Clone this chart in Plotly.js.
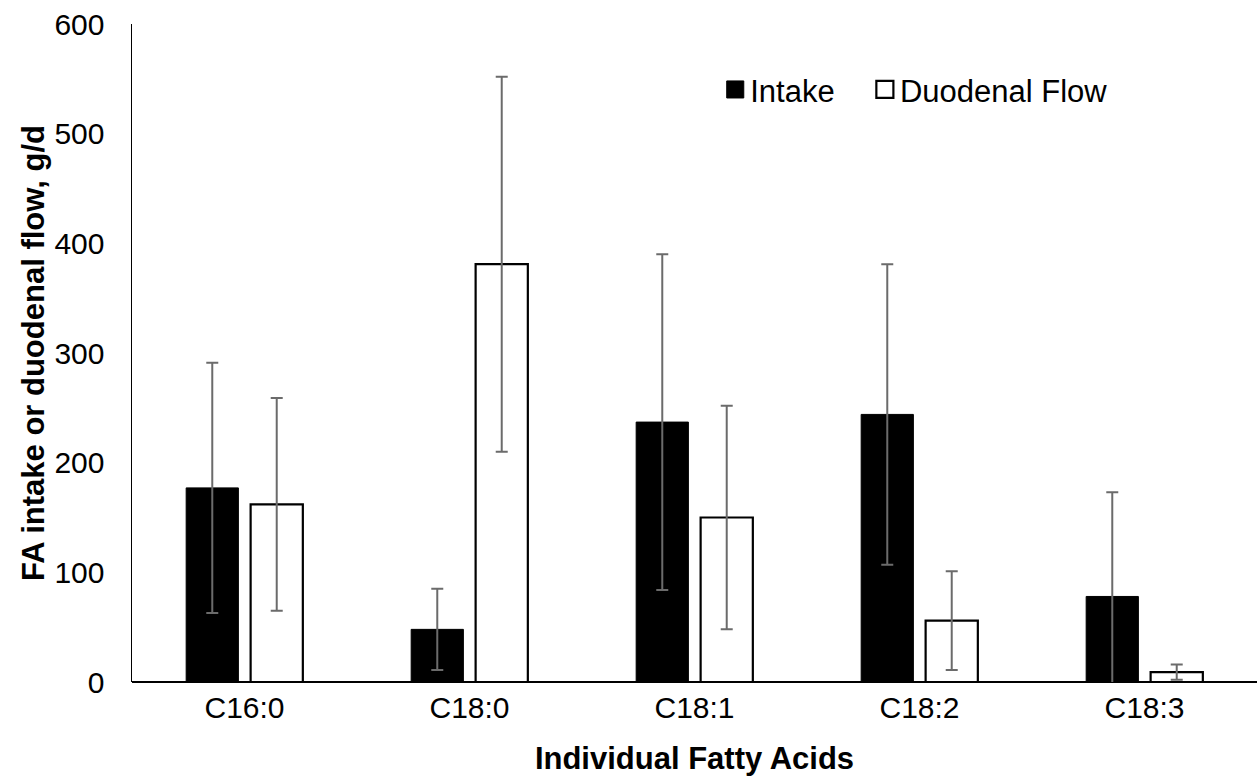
<!DOCTYPE html>
<html>
<head>
<meta charset="utf-8">
<script src="https://cdn.plot.ly/plotly-3.0.1.min.js"></script>
<style>html,body{margin:0;padding:0;background:#fff;}#chart{width:1257px;height:784px;}</style>
</head>
<body>
<div id="chart"></div>
<script>
const categories = ["C16:0", "C18:0", "C18:1", "C18:2", "C18:3"];
const intake = [177, 48, 237, 244, 78];
const intakeErr = [114, 37, 153, 137, 95];
const duodenal = [162, 381, 150, 56, 9];
const duodenalErr = [97, 171, 102, 45, 7];
const yTicks = [0, 100, 200, 300, 400, 500, 600];

const errStyle = {type: "data", visible: true, color: "#6b6b6b", thickness: 2, width: 6};

const traces = [
  {
    type: "bar", name: "Intake", x: categories, y: intake, legend: "legend",
    marker: {color: "#000000", line: {color: "#000000", width: 1}},
    error_y: Object.assign({array: intakeErr}, errStyle)
  },
  {
    type: "bar", name: "Duodenal Flow", x: categories, y: duodenal, legend: "legend2",
    marker: {color: "#ffffff", line: {color: "#000000", width: 2.2}},
    error_y: Object.assign({array: duodenalErr}, errStyle)
  }
];

const font = "Liberation Sans, Arial, sans-serif";
const legendBase = {
  orientation: "h", xanchor: "left", y: 0.9, yanchor: "middle",
  font: {family: font, size: 31, color: "#000"}, bgcolor: "rgba(0,0,0,0)",
  itemwidth: 30
};
const layout = {
  width: 1257, height: 784,
  margin: {l: 132, r: 0, t: 24, b: 102},
  paper_bgcolor: "#ffffff", plot_bgcolor: "#ffffff",
  barmode: "group", bargap: 0.427, bargroupgap: 0.19,
  showlegend: true,
  legend: Object.assign({x: 0.514}, legendBase),
  legend2: Object.assign({x: 0.647}, legendBase),
  xaxis: {
    showgrid: false, zeroline: false, showline: false, ticks: "",
    tickfont: {family: font, size: 30, color: "#000"},
    ticklabelstandoff: 5,
    title: {text: "<b>Individual Fatty Acids</b>", font: {family: font, size: 31, color: "#000"}, standoff: 24}
  },
  yaxis: {
    range: [0, 600], tickvals: yTicks, ticktext: yTicks.map(String),
    showgrid: false, zeroline: true, zerolinecolor: "#000", zerolinewidth: 1.5,
    showline: true, linecolor: "#000", linewidth: 1.5, ticks: "",
    tickfont: {family: font, size: 30, color: "#000"},
    ticklabelstandoff: 20,
    title: {text: "<b>FA intake or duodenal flow, g/d</b>", font: {family: font, size: 31, color: "#000"}, standoff: 0}
  }
};

Plotly.newPlot("chart", traces, layout, {displayModeBar: false, staticPlot: true}).then(function () {
  document.querySelectorAll("#chart .legendpoints path").forEach(function (p) {
    const t = p.getAttribute("transform") || "";
    p.setAttribute("transform", t + " translate(5,0) scale(1.42)");
    p.style.vectorEffect = "non-scaling-stroke";
  });
});
</script>
</body>
</html>
